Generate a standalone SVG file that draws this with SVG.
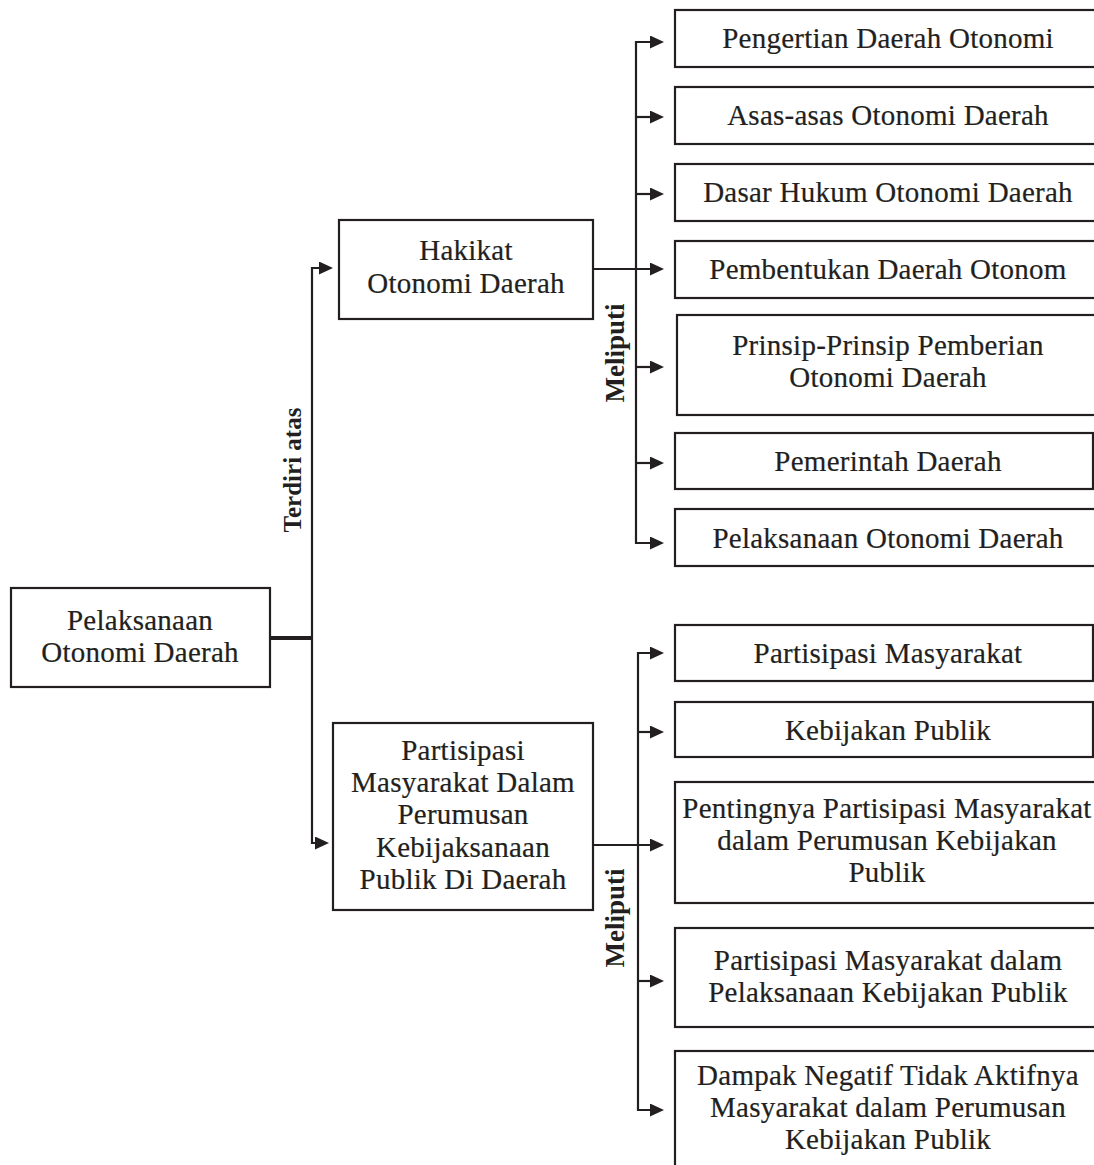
<svg xmlns="http://www.w3.org/2000/svg" width="1094" height="1165" viewBox="0 0 1094 1165">
  <style>
    .box { fill: #ffffff; stroke: #231f20; stroke-width: 2.2; }
    .txt { font-family: "Liberation Serif", "Times New Roman", serif; font-size: 29px; fill: #231f20; stroke: #231f20; stroke-width: 0.2; letter-spacing: 0.25px; text-anchor: middle; }
    .lbl { font-family: "Liberation Serif", "Times New Roman", serif; font-weight: bold; fill: #231f20; text-anchor: middle; }
    .wire { fill: none; stroke: #231f20; stroke-width: 2.2; }
    .arrow { marker-end: url(#head); }
  </style>
  <defs>
    <marker id="head" markerUnits="userSpaceOnUse" markerWidth="16" markerHeight="14" refX="4" refY="6.5" orient="auto">
      <path d="M0,0 L14,6.5 L0,13 Z" fill="#231f20"/>
    </marker>
  </defs>
  <rect width="1094" height="1165" fill="#ffffff"/>

  <!-- connectors -->
  <g id="connectors">
    <!-- root to trunk -->
    <line x1="270" y1="638" x2="313" y2="638" stroke="#231f20" stroke-width="4"/>
    <!-- trunk with branches -->
    <path class="wire arrow" d="M312,638 V268 H323"/>
    <path class="wire arrow" d="M312,638 V843 H319"/>
    <!-- Hakikat bus -->
    <path class="wire arrow" d="M593,269 H654"/>
    <path class="wire arrow" d="M636,269 V42 H654"/>
    <path class="wire arrow" d="M636,117 H654"/>
    <path class="wire arrow" d="M636,194 H654"/>
    <path class="wire arrow" d="M636,269 V543 H654"/>
    <path class="wire arrow" d="M636,367 H654"/>
    <path class="wire arrow" d="M636,463 H654"/>
    <!-- Partisipasi bus -->
    <path class="wire arrow" d="M593,845 H654"/>
    <path class="wire arrow" d="M638,845 V653 H654"/>
    <path class="wire arrow" d="M638,732 H654"/>
    <path class="wire arrow" d="M638,845 V1110 H654"/>
    <path class="wire arrow" d="M638,981 H654"/>
    <!-- connector labels -->
    <text class="lbl" font-size="25" transform="translate(301,470) rotate(-90)">Terdiri atas</text>
    <text class="lbl" font-size="27" transform="translate(624,353) rotate(-90)">Meliputi</text>
    <text class="lbl" font-size="27" transform="translate(624,918) rotate(-90)">Meliputi</text>
  </g>

  <!-- root -->
  <g id="node-root">
    <rect class="box" x="11" y="588" width="259" height="99"/>
    <text class="txt" x="140" y="630">Pelaksanaan</text>
    <text class="txt" x="140" y="662">Otonomi Daerah</text>
  </g>

  <!-- second level -->
  <g id="node-hakikat">
    <rect class="box" x="339" y="220" width="254" height="99"/>
    <text class="txt" x="466" y="260">Hakikat</text>
    <text class="txt" x="466" y="293">Otonomi Daerah</text>
  </g>
  <g id="node-partisipasi">
    <rect class="box" x="333" y="723" width="260" height="187"/>
    <text class="txt" x="463" y="760">Partisipasi</text>
    <text class="txt" x="463" y="792">Masyarakat Dalam</text>
    <text class="txt" x="463" y="824">Perumusan</text>
    <text class="txt" x="463" y="857">Kebijaksanaan</text>
    <text class="txt" x="463" y="889">Publik Di Daerah</text>
  </g>

  <!-- Hakikat items -->
  <g id="node-pengertian">
    <rect class="box" x="675" y="10" width="430" height="57"/>
    <text class="txt" x="888" y="48">Pengertian Daerah Otonomi</text>
  </g>
  <g id="node-asas">
    <rect class="box" x="675" y="87" width="430" height="57"/>
    <text class="txt" x="888" y="125">Asas-asas Otonomi Daerah</text>
  </g>
  <g id="node-dasar-hukum">
    <rect class="box" x="675" y="164" width="430" height="57"/>
    <text class="txt" x="888" y="202">Dasar Hukum Otonomi Daerah</text>
  </g>
  <g id="node-pembentukan">
    <rect class="box" x="675" y="241" width="430" height="57"/>
    <text class="txt" x="888" y="279">Pembentukan Daerah Otonom</text>
  </g>
  <g id="node-prinsip">
    <rect class="box" x="677" y="315" width="430" height="100"/>
    <text class="txt" x="888" y="355">Prinsip-Prinsip Pemberian</text>
    <text class="txt" x="888" y="387">Otonomi Daerah</text>
  </g>
  <g id="node-pemerintah">
    <rect class="box" x="675" y="433" width="418" height="56"/>
    <text class="txt" x="888" y="471">Pemerintah Daerah</text>
  </g>
  <g id="node-pelaksanaan">
    <rect class="box" x="675" y="509" width="430" height="57"/>
    <text class="txt" x="888" y="548">Pelaksanaan Otonomi Daerah</text>
  </g>

  <!-- Partisipasi items -->
  <g id="node-partisipasi-masyarakat">
    <rect class="box" x="675" y="625" width="418" height="56"/>
    <text class="txt" x="888" y="663">Partisipasi Masyarakat</text>
  </g>
  <g id="node-kebijakan">
    <rect class="box" x="675" y="702" width="418" height="55"/>
    <text class="txt" x="888" y="740">Kebijakan Publik</text>
  </g>
  <g id="node-pentingnya">
    <rect class="box" x="675" y="782" width="430" height="121"/>
    <text class="txt" x="887" y="818">Pentingnya Partisipasi Masyarakat</text>
    <text class="txt" x="887" y="850">dalam Perumusan Kebijakan</text>
    <text class="txt" x="887" y="882">Publik</text>
  </g>
  <g id="node-pelaksanaan-kebijakan">
    <rect class="box" x="675" y="928" width="430" height="99"/>
    <text class="txt" x="888" y="970">Partisipasi Masyarakat dalam</text>
    <text class="txt" x="888" y="1002">Pelaksanaan Kebijakan Publik</text>
  </g>
  <g id="node-dampak">
    <rect class="box" x="675" y="1051" width="430" height="130"/>
    <text class="txt" x="888" y="1085">Dampak Negatif Tidak Aktifnya</text>
    <text class="txt" x="888" y="1117">Masyarakat dalam Perumusan</text>
    <text class="txt" x="888" y="1149">Kebijakan Publik</text>
  </g>
</svg>
